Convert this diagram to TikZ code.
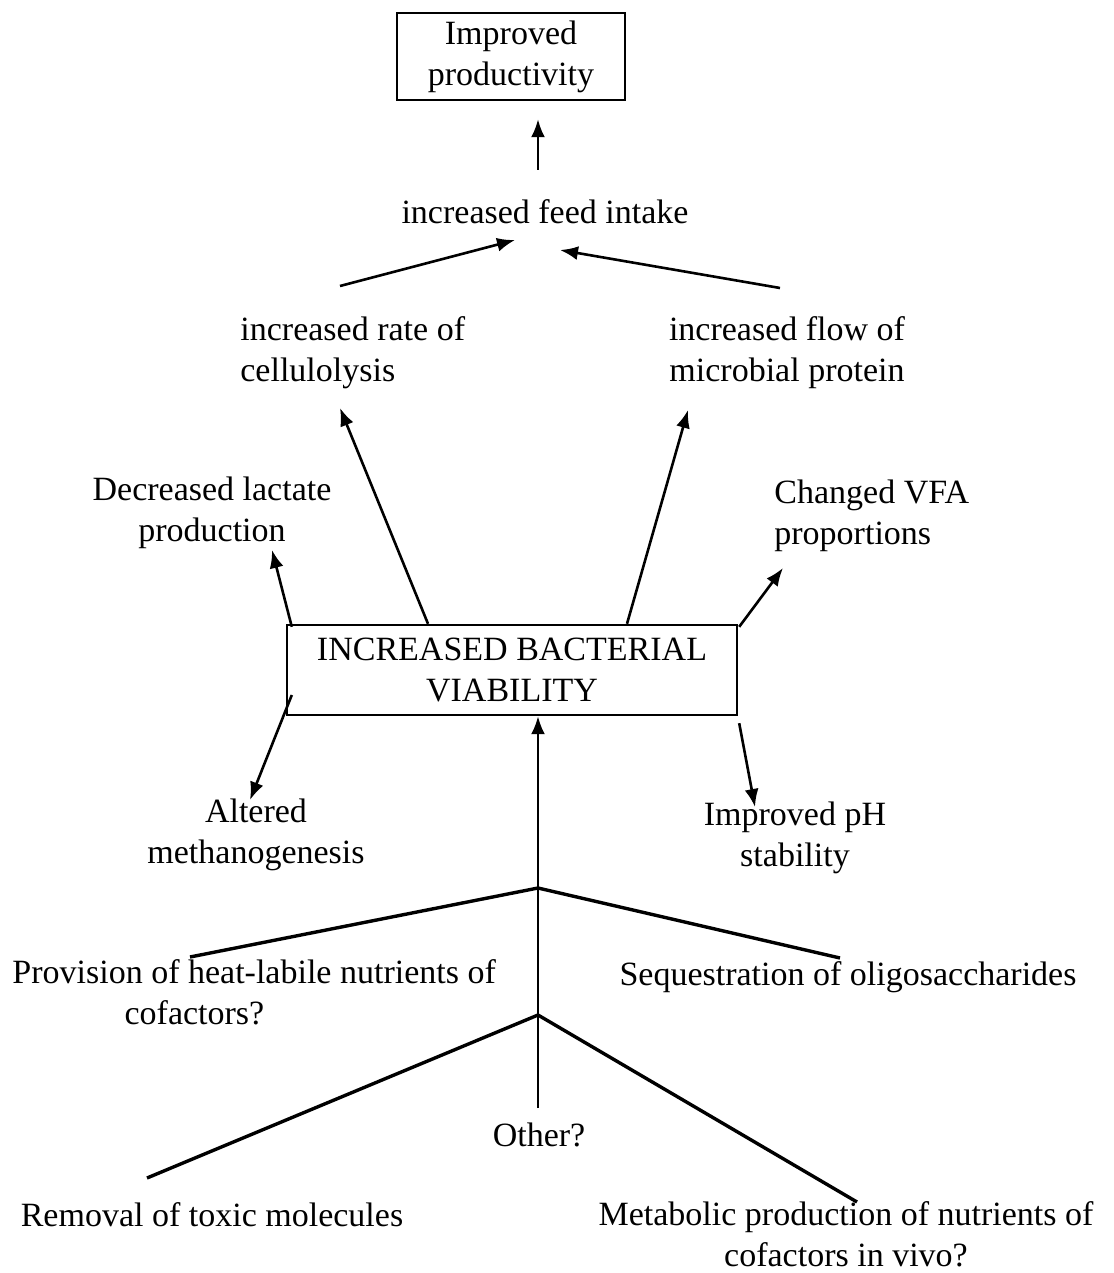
\documentclass[tikz,border=0pt]{standalone}
\usepackage{fontspec}
\setmainfont{Liberation Serif}
\usetikzlibrary{calc, arrows.meta}
\tikzset{ bx/.style  = { rectangle
                       , draw
                       , line width   = 1.2pt
                       , align        = center
                       , inner sep    = 0pt
                       },
          lbl/.style = { align     = center
                       , inner sep = 0pt
                       },
          arr/.style = { line width = 1.3pt
                       , -{Latex[length=9pt, width=7pt]}
                       },
          br/.style  = { line width = 1.7pt }
        }

\begin{document}
\begin{tikzpicture}[x=0.5pt, y=-0.5pt, font=\fontsize{17}{20.5}\selectfont]
  \useasboundingbox (0,0) rectangle (1113,1273);
  \node[bx, minimum width=114pt, minimum height=43.5pt] (prod) at (511,56.5)
       {Improved\\productivity};
  \node[bx, minimum width=225pt, minimum height=45pt] (vb) at (512,670)
       {INCREASED BACTERIAL\\VIABILITY};
  \foreach \n/\x/\y/\t in {feed/545/212/{increased feed intake},
                           flow/787/353/{increased flow of\\microbial protein},
                           lact/212/513/{Decreased lactate\\production},
                           meth/256/835/{Altered\\methanogenesis},
                           ph/795/838/{Improved pH\\stability},
                           seq/848/977/{Sequestration of oligosaccharides},
                           other/539/1135/{Other?},
                           rem/212/1215/{Removal of toxic molecules},
                           meta/846/1234/{Metabolic production of nutrients of\\cofactors in vivo?}} {
    \node[lbl] (\n) at (\x,\y) {\t};
  }
  \node[lbl, align=left, anchor=west] (cell) at (240,352.5)
       {increased rate of\\cellulolysis};
  \node[lbl, align=left, anchor=west] (vfa) at (774,516)
       {Changed VFA\\proportions};
  \node[lbl, align=left, anchor=west] (prov) at (12,992.5)
       {Provision of heat-labile nutrients of\\\hspace*{3.3em}cofactors?};
  \coordinate (j1) at (538,888);
  \coordinate (j2) at (538,1015);
  % upward chain
  \draw[arr] ($(feed)+(-7,-42)$) -- ($(prod.south)+(27,18)$);
  \draw[arr] ($(cell.west)+(100,-66.5)$) -- ($(feed)+(-30,28)$);
  \draw[arr] ($(flow)+(-7,-65)$) -- ($(feed)+(15,38)$);
  \draw[arr] ($(vb.north)+(-84,0)$) -- ($(cell.west)+(100,55.5)$);
  \draw[arr] ($(vb.north)+(115,0)$) -- ($(flow)+(-99,57)$);
  % side effects
  \draw[arr] ($(vb.north west)+(6,3)$) -- ($(lact)+(60,37)$);
  \draw[arr] ($(vb.north east)+(1,3)$) -- ($(vfa.west)+(9,52)$);
  \draw[arr] ($(vb.west)+(6,25)$) -- ($(meth)+(-6,-35)$);
  \draw[arr] ($(vb.south east)+(1,7)$) -- ($(ph)+(-40,-31)$);
  % mechanisms
  \draw[arr] ($(other)+(-1,-27)$) -- ($(vb.south)+(26,0)$);
  \draw[br] ($(prov.west)+(178,-35.5)$) -- (j1) -- ($(seq)+(-8,-19)$);
  \draw[br] ($(rem)+(-65,-37)$) -- (j2) -- ($(meta)+(11,-32)$);
\end{tikzpicture}
\end{document}
